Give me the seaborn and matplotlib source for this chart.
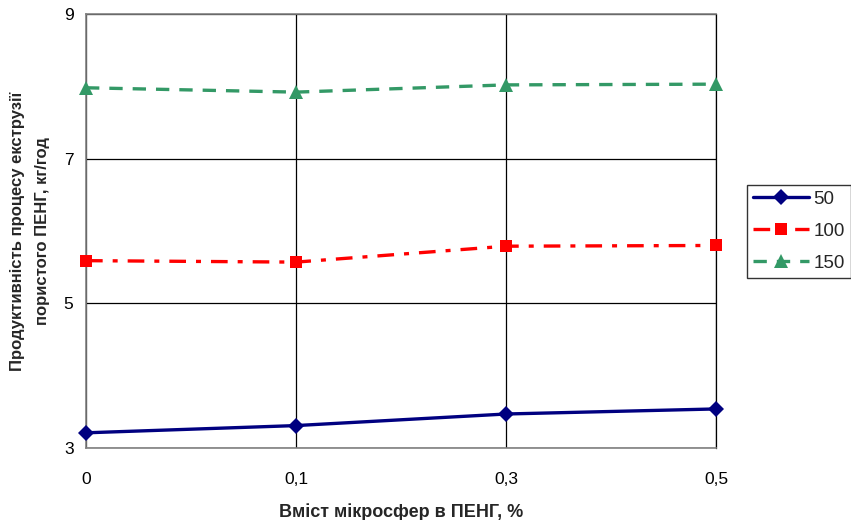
import matplotlib
matplotlib.use("Agg")
import matplotlib.pyplot as plt
import seaborn as sns
import pandas as pd
import numpy as np

categories = ["0", "0,1", "0,3", "0,5"]
series_names = ["50", "100", "150"]
vals_50 = [3.21, 3.31, 3.47, 3.54]
vals_100 = [5.59, 5.57, 5.79, 5.80]
vals_150 = [7.98, 7.92, 8.02, 8.03]
y_ticks = [3, 5, 7, 9]

sns.set_theme(style="white")
plt.rcParams['font.family'] = ['Liberation Sans', 'DejaVu Sans']

rows = []
for name, vals in zip(series_names, [vals_50, vals_100, vals_150]):
    for i, v in enumerate(vals):
        rows.append({"pos": i, "val": v, "series": name})
df = pd.DataFrame(rows)

fig = plt.figure(figsize=(8.51, 5.20), dpi=100)
ax = fig.add_axes([86/851, 1-448/520, (716-86)/851, (448-14)/520])

styles = {
    "50": dict(color="#000080", marker="D", linestyle="-", ms=8),
    "100": dict(color="#ff0000", marker="s", linestyle=(0, (5, 3, 1.5, 3)), ms=8.5),
    "150": dict(color="#339966", marker="^", linestyle=(0, (4, 3)), ms=10.5),
}
for name in series_names:
    st = styles[name]
    sub = df[df["series"] == name]
    sns.lineplot(data=sub, x="pos", y="val", ax=ax, color=st["color"],
                 marker=st["marker"], markersize=st["ms"], markeredgewidth=0,
                 linewidth=2.4, label=name, clip_on=False, zorder=3)
    ax.lines[-1].set_linestyle(st["linestyle"])

ax.set_xlim(0, 3)
ax.set_ylim(3, 9)
ax.set_xticks(range(len(categories)))
ax.set_xticklabels(categories)
ax.set_yticks(y_ticks)
ax.grid(True, color="black", linewidth=0.9)
ax.set_axisbelow(True)
for sp in ax.spines.values():
    sp.set_color("#808080")
    sp.set_linewidth(1.2)
ax.spines["right"].set_color("black")
ax.spines["right"].set_linewidth(0.9)
ax.tick_params(axis="both", direction="out", length=5, width=1, color="#808080",
               labelsize=12.5, colors="black")
ax.tick_params(axis="y", pad=4)
ax.tick_params(axis="x", pad=12)
for lab in ax.get_xticklabels() + ax.get_yticklabels():
    lab.set_color("black")

ax.set_xlabel("Вміст мікросфер в ПЕНГ, %", fontsize=13, fontweight="bold", labelpad=12)
ax.set_ylabel("Продуктивність процесу екструзії\nпористого ПЕНГ, кг/год", fontsize=12,
              fontweight="bold", labelpad=10, linespacing=1.85)

leg = ax.legend(loc="upper left", bbox_to_anchor=(747/851, 1-185/520),
                bbox_transform=fig.transFigure, frameon=True, fancybox=False,
                fontsize=13.5, handlelength=3.0, borderpad=0.3, labelspacing=0.8,
                handletextpad=0.25, borderaxespad=0)
leg.get_frame().set_edgecolor("black")
leg.get_frame().set_linewidth(1)

fig.savefig("out.png", dpi=100)
